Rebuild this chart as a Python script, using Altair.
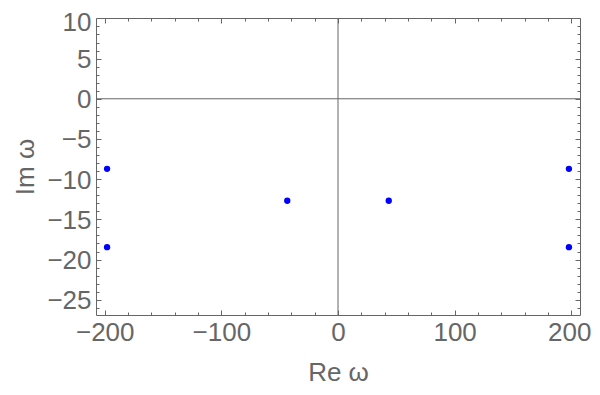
import altair as alt
import pandas as pd

# pole positions
re_vals = [-198, -198, -43.5, 43.5, 198, 198]
im_vals = [-8.72, -18.46, -12.69, -12.69, -8.72, -18.46]

x_major = [-200, -100, 0, 100, 200]
x_minor = [v for v in range(-200, 201, 20) if v % 100 != 0]
y_major = [-25, -20, -15, -10, -5, 0, 5, 10]
y_minor = [v for v in range(-26, 11) if v % 5 != 0]

x_domain = [-207.5, 207.5]
y_domain = [-26.9, 10.05]

GRAY = "#666666"
FONT = "Liberation Sans"
FS = 26

df = pd.DataFrame({"re": re_vals, "im": im_vals})
zero_df = pd.DataFrame({"z": [0]})

xs = alt.Scale(domain=x_domain, nice=False, zero=False)
ys = alt.Scale(domain=y_domain, nice=False, zero=False)

base = alt.Chart(df).mark_circle(size=40, color="#0000ff", opacity=1).encode(
    x=alt.X("re:Q", scale=xs, axis=alt.Axis(
        title="Re ω", values=x_major, ticks=False, domain=False, grid=False,
        labelFontSize=FS, labelFont=FONT, labelColor=GRAY, labelPadding=4,
        labelOffset={"condition": {"test": "datum.value == 200", "value": -2}, "value": 0},
        labelFlush=False, labelOverlap=False, labelBound=False,
        titleFontSize=FS, titleFont=FONT, titleColor=GRAY, titleFontWeight="normal",
        titlePadding=14)),
    y=alt.Y("im:Q", scale=ys, axis=alt.Axis(
        title="Im ω", values=y_major, ticks=False, domain=False, grid=False,
        labelFontSize=FS, labelFont=FONT, labelColor=GRAY, labelPadding=5,
        labelOffset={"condition": {"test": "datum.value == 10", "value": 4}, "value": 1},
        labelFlush=False, labelOverlap=False, labelBound=False,
        titleFontSize=FS, titleFont=FONT, titleColor=GRAY, titleFontWeight="normal",
        titlePadding=8)),
)

zero_x = alt.Chart(zero_df).mark_rule(color=GRAY, strokeWidth=1).encode(
    x=alt.X("z:Q", scale=xs, axis=None))
zero_y = alt.Chart(zero_df).mark_rule(color=GRAY, strokeWidth=1).encode(
    y=alt.Y("z:Q", scale=ys, axis=None))


def tick_layer(channel, orient, values, size):
    ax = alt.Axis(orient=orient, values=values, tickSize=size, offset=-size,
                  labels=False, domain=False, grid=False, title=None,
                  tickColor=GRAY, tickWidth=1)
    if channel == "x":
        enc = dict(x=alt.X("re:Q", scale=xs, axis=ax))
    else:
        enc = dict(y=alt.Y("im:Q", scale=ys, axis=ax))
    return alt.Chart(df).mark_point(opacity=0).encode(**enc)


layers = [zero_x, zero_y]
for orient in ["bottom", "top"]:
    layers.append(tick_layer("x", orient, x_major, 5))
    layers.append(tick_layer("x", orient, x_minor, 3))
for orient in ["left", "right"]:
    layers.append(tick_layer("y", orient, y_major, 5))
    layers.append(tick_layer("y", orient, y_minor, 3))
layers.append(base)

chart = alt.layer(*layers).resolve_axis(x="independent", y="independent").properties(
    width=484, height=297,
    autosize=alt.AutoSizeParams(type="none"),
    padding={"left": 88, "top": 10, "right": 12, "bottom": 70},
).configure_view(stroke=GRAY, strokeWidth=1)

chart.save("out.html", embed_options={"renderer": "svg", "actions": False})
